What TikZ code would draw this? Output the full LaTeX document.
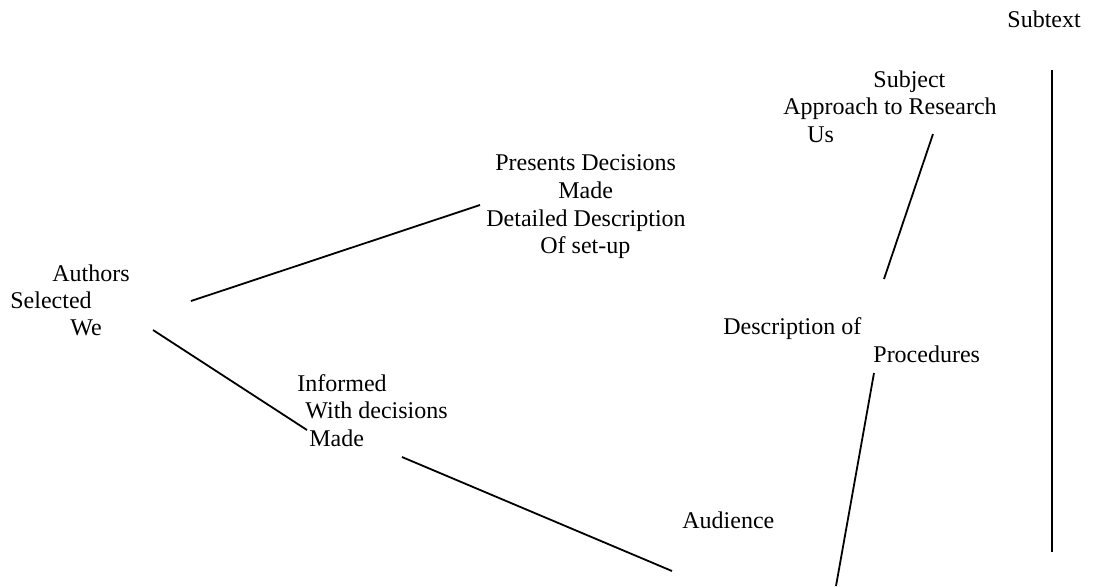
\documentclass[tikz,border=0pt]{standalone}
\usepackage{fontspec}
\setmainfont{Liberation Serif}

\tikzset{
  word/.style={anchor=base west, inner sep=0pt, font=\fontsize{12}{13.8}\selectfont},
  link/.style={line width=0.9pt}
}

\begin{document}
\begin{tikzpicture}[x=0.5pt, y=-0.5pt]
    \useasboundingbox (0,0) rectangle (1093,586);

    % left group
    \node[word] (authors)  at (52,281)  {Authors};
    \node[word] (selected) at (10,308)  {Selected};
    \node[word] (we)       at (70,335)  {We};

    % upper middle group
    \node[word] (presents) at (495,170) {Presents Decisions};
    \node[word] (madeup)   at (558,198) {Made};
    \node[word] (detailed) at (486,226) {Detailed Description};
    \node[word] (setup)    at (540,253) {Of set-up};

    % lower middle group
    \node[word] (informed) at (297,391) {Informed};
    \node[word] (withdec)  at (305,418) {With decisions};
    \node[word] (madelow)  at (309,446) {Made};

    % right groups
    \node[word] (subject)  at (873,87)  {Subject};
    \node[word] (approach) at (783,114) {Approach to Research};
    \node[word] (us)       at (807,142) {Us};
    \node[word] (descr)    at (723,334) {Description of};
    \node[word] (proc)     at (873,362) {Procedures};
    \node[word] (audience) at (682,528) {Audience};
    \node[word] (subtext)  at (1007,27) {Subtext};

    % free line ends
    \coordinate (we-up)     at (191,301);
    \coordinate (pres-in)   at (480,205);
    \coordinate (we-down)   at (153,330);
    \coordinate (inf-in)    at (307,430);
    \coordinate (made-out)  at (402,457);
    \coordinate (aud-in)    at (672,571);
    \coordinate (subj-down) at (933,134);
    \coordinate (desc-up)   at (884,279);
    \coordinate (proc-down) at (874,373);
    \coordinate (aud-end)   at (836,586);
    \coordinate (bar-top)   at (1052,70);
    \coordinate (bar-bot)   at (1052,552);

    \draw[link] (we-up) -- (pres-in);
    \draw[link] (we-down) -- (inf-in);
    \draw[link] (made-out) -- (aud-in);
    \draw[link] (subj-down) -- (desc-up);
    \draw[link] (proc-down) -- (aud-end);
    \draw[link] (bar-top) -- (bar-bot);

\end{tikzpicture}
\end{document}
